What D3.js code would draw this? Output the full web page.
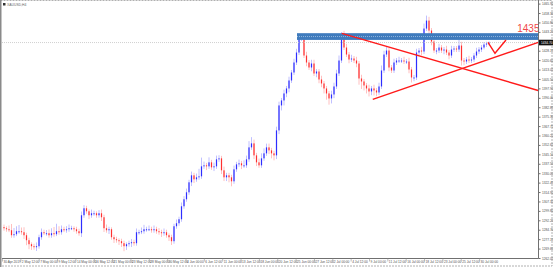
<!DOCTYPE html>
<html>
<head>
<meta charset="utf-8">
<script src="https://cdn.jsdelivr.net/npm/d3@7"></script>
<style>
  html, body { margin: 0; padding: 0; background: #fff; }
  svg { display: block; font-family: "Liberation Sans", Arial, sans-serif; }
</style>
</head>
<body>
<div id="chart"></div>
<script>
// XAUUSD H4, cierres (un valor cada ~8 horas)
var closes = [
  1285.9, 1285.1, 1284.3, 1280.3, 1281.1, 1283.5, 1283.5, 1282.7, 1280.3, 1276.3,
  1273.1, 1271.5, 1270.7, 1271.5, 1278.7, 1282.7, 1281.9, 1281.9, 1280.3, 1281.9,
  1281.1, 1283.5, 1282.7, 1285.1, 1284.3, 1285.1, 1285.9, 1285.9, 1285.1, 1283.5,
  1281.9, 1296.3, 1301.9, 1299.5, 1296.3, 1297.9, 1297.9, 1296.3, 1297.9, 1294.7,
  1285.9, 1284.3, 1285.1, 1278.7, 1277.1, 1276.3, 1275.5, 1273.9, 1271.5, 1273.1,
  1273.9, 1274.7, 1273.9, 1282.7, 1282.7, 1283.5, 1285.1, 1285.1, 1285.1, 1284.3,
  1285.1, 1283.5, 1282.7, 1281.9, 1282.7, 1280.3, 1278.7, 1275.5, 1287.5, 1289.9,
  1293.1, 1303.5, 1309.1, 1314.7, 1322.7, 1328.3, 1325.1, 1326.7, 1327.5, 1335.5,
  1336.3, 1335.5, 1338.7, 1334.7, 1335.5, 1341.1, 1341.9, 1332.3, 1326.7, 1328.3,
  1326.7, 1323.5, 1333.1, 1337.1, 1337.9, 1336.3, 1336.3, 1341.1, 1350.7, 1353.9,
  1344.3, 1338.7, 1336.3, 1341.9, 1345.9, 1350.7, 1348.3, 1345.9, 1344.3, 1364.3,
  1384.3, 1388.3, 1393.9, 1397.9, 1404.3, 1410.7, 1418.7, 1426.7, 1437.9, 1438.7,
  1424.3, 1418.7, 1414.7, 1417.9, 1409.9, 1411.5, 1405.1, 1401.9, 1397.9, 1393.9,
  1389.9, 1393.1, 1399.5, 1409.9, 1420.3, 1441.1, 1430.7, 1425.1, 1421.1, 1421.9,
  1420.3, 1417.9, 1405.9, 1403.5, 1400.3, 1397.9, 1395.5, 1397.9, 1396.3, 1394.7,
  1399.5, 1412.3, 1425.1, 1428.3, 1414.7, 1412.3, 1418.7, 1420.3, 1420.3, 1420.3,
  1419.5, 1419.5, 1413.1, 1406.7, 1406.7, 1426.7, 1428.3, 1427.5, 1445.9, 1452.3,
  1444.3, 1435.5, 1428.3, 1428.3, 1430.7, 1428.3, 1429.1, 1426.7, 1424.3, 1429.1,
  1429.9, 1429.1, 1432.3, 1420.3, 1419.5, 1421.1, 1420.3, 1421.1, 1424.3, 1427.5,
  1429.1, 1430.7, 1433.1, 1433.9, 1434.7
];
var firstOpen = 1286.8;

// mecha superior e inferior (en dolares) sobre el cuerpo de cada vela
var upWick = [
  2, 1.5, 3, 5, 5, 4, 5, 3, 4, 2,
  2, 1.5, 2, 3, 2, 3, 2, 2.5, 3, 4,
  5, 6, 4, 3, 2, 2.5, 3, 2, 1.5, 2,
  2, 3, 2.5, 2, 1.5, 3, 2, 1.5, 2.5, 3,
  2, 3, 2, 1.5, 2, 2, 1.5, 2, 2, 1.5,
  2, 2.5, 2, 3, 2, 3, 3.5, 2, 3, 2,
  3, 2, 2.5, 2, 3, 2, 1.5, 2, 2, 3,
  2, 3, 2.5, 3, 2, 3, 2, 3, 6, 7,
  3, 2, 4, 2, 3, 3, 2.5, 2, 3, 2,
  2, 2, 3, 2, 3, 2, 4, 3, 5, 5,
  3, 2, 3, 4, 4, 3, 3, 2, 2, 3,
  3, 2, 3, 2, 3, 2, 3, 3, 2, 2.5,
  3, 3, 2, 3, 3, 2, 2, 3, 2, 2,
  2, 3, 3, 3, 4, 2, 3, 3, 2, 3,
  2, 3, 2, 3, 2, 2, 3, 2, 3, 2,
  3, 4, 3, 3, 2, 2, 3, 2, 3, 2,
  3, 2, 3, 2, 2, 3, 2, 3, 4, 4,
  3, 2, 3, 2, 3, 2, 2, 3, 2, 3,
  2, 2, 5, 3, 2, 2, 3, 2, 2, 3,
  2, 2, 2, 1.5, 1
];
var downWick = [
  2, 2, 1.5, 2, 2, 1.5, 2, 2, 3, 4,
  4, 3, 2, 3, 2, 2, 1.5, 2, 2, 2,
  2, 1.5, 2, 2, 1.5, 2, 2, 1.5, 2, 2,
  2, 3, 2, 2, 3, 2, 2, 2, 2, 3,
  3, 2, 3, 2, 3, 2, 3, 3, 4, 3,
  2, 3, 2, 2, 2, 1.5, 2, 2, 1.5, 2,
  2, 2, 2, 3, 2, 2, 3, 3, 2, 2,
  2, 2, 2, 2, 2, 3, 3, 2, 2, 2,
  2, 3, 2, 2, 3, 2, 2, 3, 3, 3,
  4, 4, 2, 2, 2, 3, 2, 2, 2, 2,
  3, 3, 2, 2, 2, 2, 3, 4, 4, 3,
  3, 4, 4, 3, 3, 2, 2, 2, 2, 2,
  2, 3, 2, 3, 2, 3, 3, 3, 4, 5,
  5, 4, 3, 2, 2, 2, 2, 2, 3, 2,
  2, 3, 5, 6, 4, 4, 4, 3, 4, 3,
  2, 2, 2, 2, 3, 2, 2, 2, 2, 2,
  2, 2, 3, 4, 3, 2, 2, 3, 2, 2,
  3, 3, 2, 3, 2, 2, 3, 2, 3, 2,
  2, 2, 2, 4, 3, 2, 2, 2, 2, 2,
  2, 2, 1.5, 2, 1.5
];

// etiquetas de la escala de precios (derecha) y de fechas (abajo)
var priceTicks = [
  1465.90, 1458.35, 1450.80, 1443.25, 1435.70, 1428.15, 1420.60, 1413.05, 1405.50, 1397.95,
  1390.40, 1382.85, 1375.30, 1367.75, 1360.20, 1352.65, 1345.10, 1337.55, 1330.00, 1322.45,
  1314.90, 1307.35, 1299.80, 1292.25, 1284.70, 1277.15, 1269.60, 1262.05
];
var dateLabels = [
  "30 Apr 2019", "2 May 12:00", "7 May 00:00", "9 May 12:00", "14 May 00:00",
  "16 May 12:00", "21 May 00:00", "23 May 12:00", "28 May 00:00", "30 May 12:00",
  "4 Jun 00:00", "6 Jun 12:00", "11 Jun 00:00", "13 Jun 12:00", "18 Jun 00:00",
  "20 Jun 12:00", "25 Jun 00:00", "27 Jun 12:00", "2 Jul 00:00", "4 Jul 12:00",
  "9 Jul 00:00", "11 Jul 12:00", "16 Jul 00:00", "18 Jul 12:00", "23 Jul 00:00",
  "25 Jul 12:00", "30 Jul 00:00"
];
var barsPerLabel = 7.34;
var firstLabelBar = -0.8;

// objetos dibujados a mano sobre el grafico
var symbolLabel = "XAUUSD,H4";
var resistanceStart = 117.2;
var resistance = [1436.8, 1442.2];
var resistanceLabel = "1435";
var downLine = [[135.1, 1442.1], [214, 1396.1]];
var upLine = [[147.5, 1389.2], [214, 1435.1]];
var checkMark = [[193.6, 1434.9], [196.4, 1426.1], [200.8, 1436.7]];
var lastBar = 214;

var width = 553, height = 267,
    plotRight = 538.5, plotBottom = 258.5;

var x = d3.scaleLinear().domain([0, lastBar]).range([4, 539]);
var y = d3.scaleLinear()
  .domain([priceTicks[priceTicks.length - 1], priceTicks[0]])
  .range([258, 3.6]);

var svg = d3.select("#chart").append("svg")
  .attr("width", width)
  .attr("height", height);

// marco exterior
svg.append("rect")
  .attr("x", 0.5).attr("y", 0.5)
  .attr("width", width - 1.5).attr("height", height - 1.5)
  .style("fill", "#fff")
  .style("stroke", "#b0b0b0")
  .style("stroke-dasharray", "2,1");
svg.append("line")
  .attr("x1", 0.75).attr("x2", 0.75).attr("y1", 0).attr("y2", height)
  .style("stroke", "#8a8a8a").style("stroke-width", 1.5);

// velas
var bars = closes.map(function(c, i) {
  var o = i === 0 ? firstOpen : closes[i - 1];
  return { i: i, o: o, c: c,
           h: Math.max(o, c) + upWick[i],
           l: Math.min(o, c) - downWick[i] };
});

var g = svg.append("g");

g.selectAll("line.wick")
  .data(bars)
  .enter().append("line")
  .attr("class", "wick")
  .attr("x1", function(d) { return x(d.i); })
  .attr("x2", function(d) { return x(d.i); })
  .attr("y1", function(d) { return y(d.h); })
  .attr("y2", function(d) { return y(d.l); })
  .style("stroke", function(d) { return d.c >= d.o ? "#b0b0ff" : "#ffb0b0"; })
  .style("stroke-width", 0.8);

g.selectAll("rect.body")
  .data(bars)
  .enter().append("rect")
  .attr("class", "body")
  .attr("x", function(d) { return x(d.i) - 0.6; })
  .attr("width", 1.2)
  .attr("y", function(d) { return y(Math.max(d.o, d.c)); })
  .attr("height", function(d) { return Math.max(1, Math.abs(y(d.o) - y(d.c))); })
  .style("fill", function(d) { return d.c >= d.o ? "#2e2eff" : "#ff3030"; });

// linea del precio actual
var last = closes[closes.length - 1];
svg.append("line")
  .attr("x1", 2).attr("x2", plotRight)
  .attr("y1", y(last)).attr("y2", y(last))
  .style("stroke", "#c4c4c4")
  .style("stroke-width", 0.8)
  .style("stroke-dasharray", "1,1");

// banda de resistencia
svg.append("rect")
  .attr("x", x(resistanceStart))
  .attr("y", y(resistance[1]))
  .attr("width", x(lastBar) - x(resistanceStart))
  .attr("height", y(resistance[0]) - y(resistance[1]))
  .style("fill", "#3f7bbd");
svg.append("line")
  .attr("x1", x(resistanceStart)).attr("x2", x(lastBar))
  .attr("y1", y((resistance[0] + resistance[1]) / 2))
  .attr("y2", y((resistance[0] + resistance[1]) / 2))
  .style("stroke", "#8fb4dc")
  .style("stroke-width", 1)
  .style("stroke-dasharray", "1,1");

svg.append("text")
  .attr("x", x(lastBar) + 0.5)
  .attr("y", y(resistance[1]) - 1)
  .style("text-anchor", "end")
  .style("font-size", "10px")
  .style("fill", "#f04848")
  .text(resistanceLabel);

// lineas de tendencia y la "V"
var line = d3.line()
  .x(function(d) { return x(d[0]); })
  .y(function(d) { return y(d[1]); });

[downLine, upLine, checkMark].forEach(function(pts) {
  svg.append("path")
    .datum(pts)
    .attr("d", line)
    .style("fill", "none")
    .style("stroke", "#ff1a1a")
    .style("stroke-width", 1.4);
});

// eje de precios
var yAxis = d3.axisRight(y)
  .tickValues(priceTicks)
  .tickFormat(d3.format(".2f"))
  .tickSize(2)
  .tickPadding(1.5);

var ya = svg.append("g")
  .attr("transform", "translate(" + plotRight + ",0)")
  .call(yAxis);
ya.select(".domain").attr("d", "M0,0V" + plotBottom).style("stroke", "#707070");
ya.selectAll(".tick line").style("stroke", "#707070");
ya.selectAll("text")
  .style("font-size", "3.2px")
  .style("fill", "#505050")
  .style("font-family", "Liberation Sans, Arial, sans-serif");

// etiqueta del precio actual
svg.append("rect")
  .attr("x", plotRight + 0.5)
  .attr("y", y(last) - 2.8)
  .attr("width", 14)
  .attr("height", 5.6)
  .style("fill", "#111");
svg.append("text")
  .attr("x", plotRight + 2.5)
  .attr("y", y(last))
  .attr("dy", "0.35em")
  .style("font-size", "3.2px")
  .style("fill", "#fff")
  .text(d3.format(".2f")(last));

// eje de fechas
var labelBars = dateLabels.map(function(d, k) { return firstLabelBar + k * barsPerLabel; });
var xAxis = d3.axisBottom(x)
  .tickValues(labelBars)
  .tickFormat(function(d, k) { return dateLabels[k]; })
  .tickSize(3)
  .tickPadding(-1);

var xa = svg.append("g")
  .attr("transform", "translate(0," + plotBottom + ")")
  .call(xAxis);
xa.select(".domain").attr("d", "M2,0H" + plotRight).style("stroke", "#707070");
xa.selectAll(".tick line").style("stroke", "#909090").style("stroke-width", 0.6);
xa.selectAll("text")
  .attr("x", 1)
  .style("text-anchor", "start")
  .style("font-size", "3.2px")
  .style("fill", "#505050")
  .style("font-family", "Liberation Sans, Arial, sans-serif");

// nombre del simbolo arriba a la izquierda
svg.append("rect")
  .attr("x", 3).attr("y", 3).attr("width", 2.5).attr("height", 2.5)
  .style("fill", "#333");
svg.append("text")
  .attr("x", 7).attr("y", 5.6)
  .style("font-size", "3.4px")
  .style("fill", "#666")
  .text(symbolLabel);
</script>
</body>
</html>
